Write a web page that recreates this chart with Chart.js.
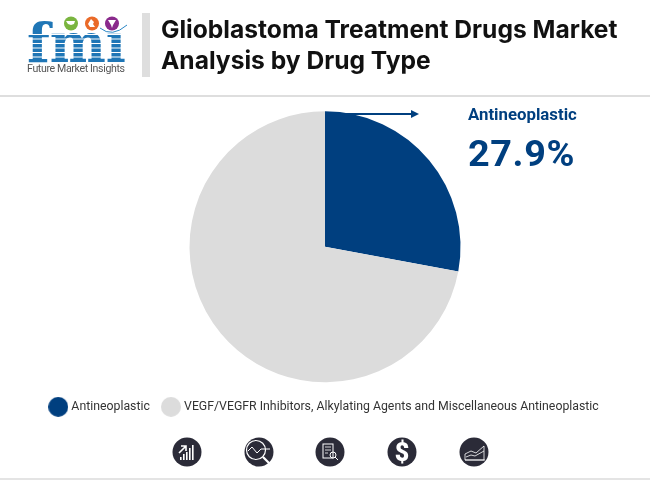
<!DOCTYPE html>
<html><head><meta charset="utf-8">
<script src="https://cdn.jsdelivr.net/npm/chart.js@4"></script>
<style>
html,body{margin:0;padding:0;background:#fff;width:650px;height:480px;overflow:hidden;font-family:Roboto,sans-serif}
#wrap{position:relative;width:650px;height:480px}
#c{position:absolute;left:0;top:0}
.abs{position:absolute}
#title{left:161px;top:14px;font-family:Inter,Roboto,sans-serif;font-weight:700;font-size:24.6px;line-height:31px;color:#111;white-space:nowrap}
#lab{left:468px;top:104px;font-weight:700;font-size:16.8px;line-height:20px;color:#003f7f}
#val{left:468px;top:131px;font-weight:700;font-size:37.8px;line-height:44px;color:#003f7f;letter-spacing:.6px}
svg{position:absolute;left:0;top:0}
</style></head><body>
<div id="wrap">
<canvas id="c" width="650" height="480"></canvas>
<svg width="650" height="480" viewBox="0 0 650 480">
  <rect x="142" y="13" width="8" height="64" fill="#dedede"/>
  <rect x="0" y="95" width="650" height="2" fill="#dedede"/>
  <rect x="0" y="478" width="650" height="2" fill="#e4e4e4"/>
  <text x="27" y="62" font-family="DejaVu Serif" font-weight="700" font-size="54" textLength="99" lengthAdjust="spacingAndGlyphs" fill="#1f76b6">fmı</text>
  <g fill="#fff">
    <rect x="26" y="34" width="102" height="1"/><rect x="26" y="38.5" width="102" height="1"/>
    <rect x="26" y="43" width="102" height="1"/><rect x="26" y="47.5" width="102" height="1"/>
    <rect x="26" y="52" width="102" height="1"/><rect x="26" y="56.5" width="102" height="1"/>
  </g>
  <path d="M100 28 Q112 38 127 25" fill="none" stroke="#2a86c5" stroke-width="1"/>
  <circle cx="71" cy="23.5" r="7" fill="#7ab53f"/><path d="M66 21h9l-1 3-3 1-3-1z" fill="#fff"/>
  <circle cx="92" cy="23.5" r="7" fill="#ea6a28"/><path d="M91 19l3 3-1 2 2 3h-5l-2-3z" fill="#fff"/>
  <circle cx="112" cy="23.5" r="7" fill="#8a2a8c"/><path d="M108 20h8l-3 5-1 3-1-3z" fill="#fff"/>
  <text x="27" y="72" font-family="Roboto" font-size="10.6" fill="#555" textLength="98">Future Market Insights</text>
  <line x1="325" y1="114" x2="414" y2="114" stroke="#003f7f" stroke-width="2"/>
  <path d="M411 110l8 4-8 4z" fill="#003f7f"/>
  <g fill="#2b2b38">
    <circle cx="187" cy="452" r="14.5"/><circle cx="259" cy="452" r="14.5"/><circle cx="330" cy="452" r="14.5"/><circle cx="402" cy="452" r="14.5"/><circle cx="474" cy="452" r="14.5"/>
  </g>
  <g fill="#fff">
    <rect x="180" y="457" width="1.6" height="3"/><rect x="183" y="454" width="1.6" height="6"/><rect x="186" y="452" width="1.6" height="8"/><rect x="189" y="448" width="1.6" height="12"/><rect x="192" y="445" width="1.6" height="15"/>
  </g>
  <path d="M179 453l7-7m-5 0h5v5" fill="none" stroke="#fff" stroke-width="1.6"/>
  <g fill="none" stroke="#fff">
    <circle cx="256" cy="450" r="9.5" stroke-width="1.2"/>
    <path d="M248 451l4-4 5 6 4-4h9" stroke-width="1"/>
    <path d="M263 457l7 7" stroke-width="2.2"/>
    <rect x="323" y="444" width="10" height="14" stroke-width="1"/>
    <path d="M325 447h6M325 450h6M325 453h3" stroke-width=".8"/>
    <circle cx="333" cy="455" r="3" stroke-width="1"/>
    <path d="M335 457l3 3" stroke-width="1"/>
    <path d="M465 460v-6l6-3 5 2 8-7v14z" stroke-width=".8"/>
    <path d="M465 460h20M466 457l5-2 4 1 9-5" stroke-width=".8"/>
  </g>
  <text x="402" y="461" text-anchor="middle" font-family="Roboto" font-weight="900" font-size="25" fill="#fff">$</text>
</svg>
<div id="title" class="abs">Glioblastoma Treatment Drugs Market<br>Analysis by Drug Type</div>
<div id="lab" class="abs">Antineoplastic</div>
<div id="val" class="abs">27.9%</div>
</div>
<script>
const categories = ["Antineoplastic", "VEGF/VEGFR Inhibitors, Alkylating Agents and Miscellaneous Antineoplastic"];
const shares = [27.9, 72.1];
const sliceColors = ["#003f7f", "#dcdcdc"];
function dot(color){
  const k = document.createElement("canvas"); k.width = 20; k.height = 20;
  const g = k.getContext("2d"); g.fillStyle = color; g.beginPath(); g.arc(10,10,10,0,Math.PI*2); g.fill();
  return k;
}
new Chart(document.getElementById("c"), {
  type: "pie",
  data: { labels: categories, datasets: [{ data: shares, backgroundColor: sliceColors, borderWidth: 0, radius: 135.5 }] },
  options: {
    responsive: false, animation: false, devicePixelRatio: 1,
    layout: { padding: { top: 107, bottom: 57, left: 0, right: 0 } },
    plugins: {
      tooltip: { enabled: false },
      legend: {
        position: "bottom",
        labels: {
          usePointStyle: true, pointStyleWidth: 14,
          padding: 14, color: "#333", font: { family: "Roboto", size: 12.3 },
          generateLabels: (chart) => categories.map((t, i) => ({
            text: t, pointStyle: dot(sliceColors[i]), fontColor: "#333",
            fillStyle: sliceColors[i], strokeStyle: sliceColors[i], lineWidth: 0, hidden: false, index: i
          }))
        }
      }
    }
  }
});
</script>
</body></html>
